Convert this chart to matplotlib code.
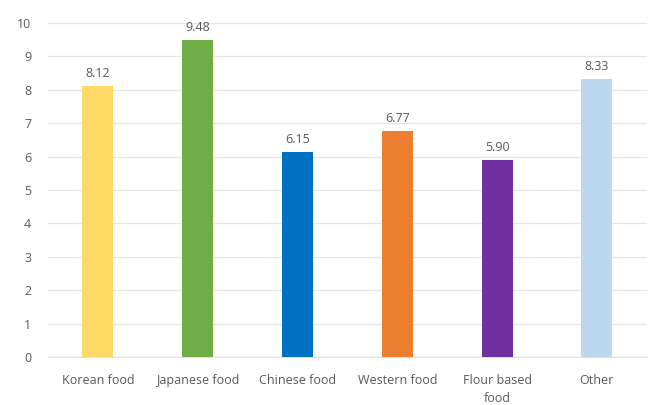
import matplotlib
matplotlib.use("Agg")
import matplotlib.pyplot as plt

categories = ["Korean food", "Japanese food", "Chinese food", "Western food", "Flour based\nfood", "Other"]
values = [8.12, 9.48, 6.15, 6.77, 5.90, 8.33]
colors = ["#FFD966", "#70AD47", "#0070C0", "#ED7D31", "#7030A0", "#BDD7EE"]
yticks = list(range(0, 11))

plt.rcParams['font.family'] = ['Open Sans', 'DejaVu Sans']
fig = plt.figure(figsize=(6.58, 4.05), dpi=100)
ax = fig.add_axes([0.073, 0.1185, 0.91, 0.8245])
x = list(range(len(categories)))
bars = ax.bar(x, values, width=0.31, color=colors, zorder=3)
for xi, v in zip(x, values):
    ax.text(xi, v + 0.18, f"{v:.2f}", ha="center", va="bottom", fontsize=9, color="#595959")
ax.set_xlim(-0.5, 5.5)
ax.set_ylim(0, 10)
ax.set_yticks(yticks)
ax.set_xticks(x)
ax.set_xticklabels(categories, fontsize=9, color="#595959", linespacing=1.55)
ax.tick_params(axis="y", labelsize=9, labelcolor="#595959", length=0, pad=12)
ax.tick_params(axis="x", length=0, pad=12)
ax.grid(axis="y", color="#E6E6E6", linewidth=0.9, zorder=0)
for s in ["top", "right", "left"]:
    ax.spines[s].set_visible(False)
ax.spines["bottom"].set_color("#E0E0E0")
fig.savefig("out.png", dpi=100)
